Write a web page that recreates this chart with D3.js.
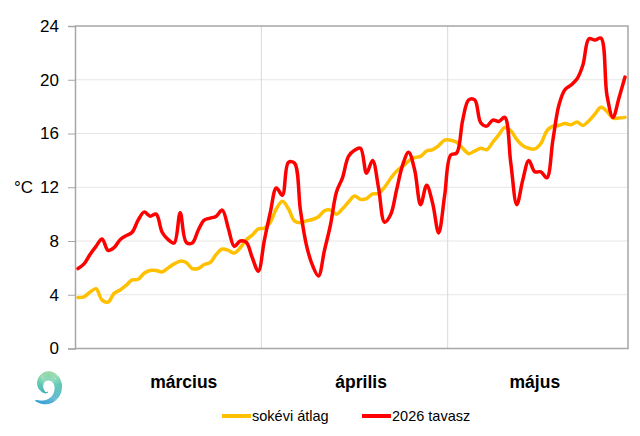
<!DOCTYPE html>
<html>
<head>
<meta charset="utf-8">
<script src="https://cdn.jsdelivr.net/npm/d3@7"></script>
<style>
  body { margin: 0; background: #fff; }
  svg { display: block; font-family: "Liberation Sans", Arial, sans-serif; }
</style>
</head>
<body>
<svg id="chart"></svg>
<script>
const width = 640;
const height = 436;

// daily values, 1 March .. 31 May (92 days)
const avgTemp = [
  3.8, 3.85, 4.2, 4.45, 3.6, 3.45, 4.1, 4.35, 4.7, 5.1,
  5.15, 5.6, 5.8, 5.8, 5.7, 6.0, 6.3, 6.5, 6.4, 5.95,
  5.95, 6.25, 6.4, 7.0, 7.4, 7.3, 7.1, 7.5, 8.1, 8.45,
  8.9, 8.95, 9.4, 10.4, 10.95, 10.4, 9.5, 9.35, 9.5, 9.6,
  9.8, 10.25, 10.3, 10.0, 10.4, 10.9, 11.35, 11.1, 11.15, 11.5,
  11.55, 12.0, 12.65, 13.2, 13.55, 13.95, 14.2, 14.3, 14.7, 14.8,
  15.1, 15.5, 15.5, 15.35, 14.9, 14.5, 14.7, 14.9, 14.8, 15.35,
  15.9, 16.45, 16.2, 15.55, 15.1, 14.9, 14.85, 15.25, 16.2, 16.55,
  16.6, 16.75, 16.65, 16.85, 16.6, 16.95, 17.45, 17.95, 17.65, 17.15,
  17.15, 17.2
];
const temp2026 = [
  5.95, 6.3, 7.0, 7.6, 8.15, 7.3, 7.5, 8.1, 8.4, 8.65,
  9.55, 10.15, 9.85, 10.0, 8.65, 8.1, 7.85, 10.1, 7.9, 7.85,
  8.8, 9.55, 9.7, 9.85, 10.3, 8.95, 7.6, 8.0, 7.9, 6.75,
  5.75, 8.05, 10.15, 11.95, 11.4, 13.85, 13.8, 10.3, 7.7, 6.2,
  5.4, 7.3, 9.2, 11.65, 12.7, 14.3, 14.75, 14.9, 13.05, 14.0,
  11.95, 9.4, 9.95, 11.8, 13.65, 14.6, 13.3, 10.7, 12.15, 10.8,
  8.6, 11.4, 14.4, 14.55, 17.0, 18.5, 18.5, 16.8, 16.55, 17.0,
  16.9, 17.2, 13.8, 10.7, 12.55, 14.0, 13.15, 13.15, 12.7, 15.5,
  18.1, 19.25, 19.6, 20.05, 21.1, 23.05, 22.95, 23.1, 18.85, 17.2,
  18.65, 20.2
];
const yTicks = [0, 4, 8, 12, 16, 20, 24];
const months = ["március", "április", "május"];
const monthGrid = [31, 62];
const monthLabelDay = [18.1, 47.6, 76.5];
const seriesNames = ["sokévi átlag", "2026 tavasz"];
const seriesColors = ["#ffc000", "#ff0000"];

const svg = d3.select("#chart")
  .attr("width", width)
  .attr("height", height);

const plotL = 75, plotR = 628, plotT = 26, plotB = 348.5;

const x = d3.scaleLinear().domain([0, 92]).range([plotL, plotR]);
const y = d3.scaleLinear().domain([0, 24]).range([plotB, plotT]);

// horizontal gridlines
svg.append("g")
  .selectAll("line")
  .data(yTicks.slice(1, -1))
  .enter()
  .append("line")
  .attr("x1", plotL).attr("x2", plotR)
  .attr("y1", d => y(d)).attr("y2", d => y(d))
  .attr("stroke", "#e6e6e6")
  .attr("stroke-width", 1);

// vertical month gridlines
svg.append("g")
  .selectAll("line")
  .data(monthGrid)
  .enter()
  .append("line")
  .attr("x1", d => x(d)).attr("x2", d => x(d))
  .attr("y1", plotT).attr("y2", plotB)
  .attr("stroke", "#d9d9d9")
  .attr("stroke-width", 1);

// y axis
const yAxis = d3.axisLeft(y).tickValues(yTicks).tickSize(7).tickPadding(9);
const gy = svg.append("g")
  .attr("transform", `translate(${plotL},0)`)
  .call(yAxis);
gy.select(".domain").attr("stroke", "#a6a6a6").attr("stroke-width", 1.5);
gy.selectAll(".tick line").attr("stroke", "#a6a6a6").attr("stroke-width", 1);
gy.selectAll(".tick text")
  .attr("fill", "#000")
  .style("font-size", "17px")
  .style("font-family", "Liberation Sans, Arial, sans-serif");

// plot frame (top, right, bottom)
svg.append("path")
  .attr("d", `M${plotL},${plotT}H${plotR}V${plotB}H${plotL}`)
  .attr("fill", "none")
  .attr("stroke", "#a6a6a6")
  .attr("stroke-width", 1.5);

svg.append("text")
  .attr("x", 33).attr("y", y(12))
  .attr("dy", "0.35em")
  .attr("text-anchor", "end")
  .style("font-size", "17px")
  .text("°C");

// month labels
svg.append("g")
  .selectAll("text")
  .data(months)
  .enter()
  .append("text")
  .attr("x", (d, i) => x(monthLabelDay[i]))
  .attr("y", 388)
  .attr("text-anchor", "middle")
  .style("font-size", "17.5px")
  .style("font-weight", "bold")
  .text(d => d);

// lines
const line = d3.line()
  .x((d, i) => x(i + 0.5))
  .y(d => y(d))
  .curve(d3.curveCatmullRom.alpha(0.5));

[avgTemp, temp2026].forEach((s, k) => {
  svg.append("path")
    .datum(s)
    .attr("d", line)
    .attr("fill", "none")
    .attr("stroke", seriesColors[k])
    .attr("stroke-width", 3.5)
    .attr("stroke-linejoin", "round")
    .attr("stroke-linecap", "round");
});

// legend
const legend = svg.append("g").attr("transform", "translate(0,416)");
const legendX = [222, 362];
seriesNames.forEach((name, k) => {
  legend.append("line")
    .attr("x1", legendX[k]).attr("x2", legendX[k] + 29)
    .attr("y1", 0).attr("y2", 0)
    .attr("stroke", seriesColors[k])
    .attr("stroke-width", 4);
  legend.append("text")
    .attr("x", legendX[k] + 30)
    .attr("y", 0)
    .attr("dy", "0.35em")
    .style("font-size", "14.5px")
    .text(name);
});

// logo: striped swirl
const defs = svg.append("defs");
const grad = defs.append("linearGradient")
  .attr("id", "logoGrad")
  .attr("gradientUnits", "userSpaceOnUse")
  .attr("x1", 0).attr("y1", -20).attr("x2", 0).attr("y2", 20);
grad.append("stop").attr("offset", "0").attr("stop-color", "#8dcf6a");
grad.append("stop").attr("offset", "0.45").attr("stop-color", "#3fbfa0");
grad.append("stop").attr("offset", "1").attr("stop-color", "#3a9fd8");

const logo = svg.append("g").attr("transform", "translate(47,385)");
const swirl = d3.line().curve(d3.curveBasis);
d3.range(10).forEach(j => {
  const pts = d3.range(0, 1.001, 0.01).map(t => {
    const a = (128 - t * 400) * Math.PI / 180;
    const r = 19 - t * 12;
    const w = 8 * Math.pow(Math.sin(Math.PI * Math.min(1, t * 1.05)), 0.7);
    const rr = r - w * j / 9;
    return [Math.cos(a) * rr * 0.95, Math.sin(a) * rr * 1.05];
  });
  logo.append("path")
    .attr("d", swirl(pts))
    .attr("fill", "none")
    .attr("stroke", "url(#logoGrad)")
    .attr("stroke-width", 0.9);
});
</script>
</body>
</html>
